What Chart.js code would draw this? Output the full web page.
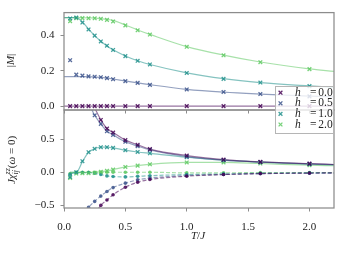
<!DOCTYPE html>
<html><head><meta charset="utf-8">
<script src="https://cdn.jsdelivr.net/npm/chart.js@4"></script>
<style>
html,body{margin:0;padding:0;background:#fff;}
#wrap{position:relative;width:346px;height:257px;overflow:hidden;}
canvas{position:absolute;left:0;top:0;}
</style></head>
<body><div id="wrap"><canvas id="top" width="346" height="257"></canvas><canvas id="bot" width="346" height="257"></canvas></div>
<script>
// ---------- data ----------
const hLabels = ['0.0','0.5','1.0','2.0'];
const xTicks = [0,0.5,1.0,1.5,2.0];
const yTicksTop = [0,0.2,0.4];
const yTicksBot = [-0.5,0,0.5];

// simulation temperatures (markers)
const T = [0.05,0.1,0.15,0.2,0.25,0.3,0.35,0.4,0.5,0.6,0.7,1.0,1.3,1.6,2.0];
// |M| markers
const M_h00 = [0,0,0,0,0,0,0,0,0,0,0,0,0,0,0];
const M_h05 = [0.259,0.178,0.172,0.168,0.166,0.163,0.158,0.152,0.141,0.131,0.120,0.094,0.080,0.068,0.055];
const M_h10 = [0.495,0.500,0.472,0.433,0.398,0.365,0.341,0.317,0.282,0.256,0.235,0.187,0.154,0.133,0.113];
const M_h20 = [0.480,0.497,0.497,0.496,0.496,0.493,0.487,0.478,0.456,0.428,0.404,0.335,0.287,0.248,0.209];
// |M| curves
const Tc = [0,0.1,0.15,0.2,0.25,0.3,0.35,0.4,0.5,0.6,0.7,1.0,1.3,1.6,2.0,2.2];
const Mc_h00 = [0,0,0,0,0,0,0,0,0,0,0,0,0,0,0,0];
const Mc_h05 = [0.167,0.167,0.167,0.166,0.164,0.162,0.158,0.153,0.142,0.131,0.121,0.095,0.079,0.068,0.056,0.052];
const Mc_h10 = [0.500,0.500,0.475,0.435,0.398,0.366,0.340,0.318,0.283,0.256,0.235,0.188,0.155,0.133,0.114,0.106];
const Mc_h20 = [0.500,0.500,0.499,0.498,0.497,0.494,0.490,0.484,0.458,0.430,0.405,0.336,0.288,0.249,0.210,0.196];

// J chi (solid, x markers)
const X_h00 = [null,null,null,null,null,0.79,0.66,0.60,0.485,0.415,0.350,0.252,0.192,0.157,0.130];
const X_h05 = [null,null,null,null,0.86,0.73,0.62,0.565,0.460,0.395,0.338,0.237,0.182,0.152,0.126];
const X_h10 = [-0.07,0.0,0.167,0.303,0.354,0.378,0.378,0.368,0.333,0.306,0.286,0.227,0.182,0.152,0.121];
const X_h20 = [-0.086,-0.02,-0.015,-0.015,-0.01,0.005,0.02,0.04,0.08,0.10,0.12,0.148,0.148,0.132,0.106];
// J chi curves (solid)
const Tx = [0.05,0.1,0.15,0.2,0.25,0.3,0.35,0.4,0.5,0.6,0.7,1.0,1.3,1.6,2.0,2.2];
const Xc_h00 = [null,null,null,null,0.97,0.79,0.66,0.60,0.485,0.415,0.350,0.252,0.192,0.157,0.130,0.117];
const Xc_h05 = [null,null,null,1.05,0.86,0.73,0.62,0.565,0.460,0.395,0.338,0.237,0.182,0.152,0.126,0.114];
const Xc_h10 = [0.0,0.0,0.16,0.30,0.355,0.378,0.378,0.368,0.333,0.306,0.286,0.227,0.182,0.152,0.121,0.110];
const Xc_h20 = [0.0,0.0,-0.005,-0.005,0.0,0.01,0.02,0.04,0.08,0.10,0.12,0.148,0.148,0.132,0.106,0.098];
// dashed (dot markers)
const D_h00 = [null,null,null,null,null,-0.50,-0.42,-0.34,-0.227,-0.150,-0.110,-0.060,-0.035,-0.020,-0.012];
const D_h05 = [null,null,null,-0.53,-0.44,-0.36,-0.29,-0.232,-0.165,-0.115,-0.088,-0.050,-0.035,-0.022,-0.015];
const D_h10 = [-0.03,-0.005,-0.005,-0.005,-0.015,-0.035,-0.055,-0.065,-0.070,-0.062,-0.052,-0.035,-0.025,-0.015,-0.010];
const D_h20 = [-0.02,0.0,0.0,0.0,0.0,0.0,0.0,0.0,0.0,0.0,0.0,-0.010,-0.008,-0.006,-0.004];
const Dc_h00 = [null,null,null,null,-0.64,-0.50,-0.42,-0.34,-0.227,-0.150,-0.110,-0.060,-0.035,-0.020,-0.012,-0.010];
const Dc_h05 = [null,null,-0.66,-0.53,-0.44,-0.36,-0.29,-0.232,-0.165,-0.115,-0.088,-0.050,-0.035,-0.022,-0.015,-0.013];
const Dc_h10 = [-0.03,-0.005,-0.005,-0.005,-0.015,-0.035,-0.055,-0.065,-0.070,-0.062,-0.052,-0.035,-0.025,-0.015,-0.010,-0.009];
const Dc_h20 = [-0.02,0.0,0.0,0.0,0.0,0.0,0.0,0.0,0.0,0.0,0.0,-0.010,-0.008,-0.006,-0.004,-0.004];

// ---------- styling ----------
const C = ['#440154','#3b528b','#21918c','#5ec962'];
const AX = '#8c8c8c';
const SERIF = "'Liberation Serif','DejaVu Serif',serif";
function rgba(h,a){const n=parseInt(h.slice(1),16);return `rgba(${n>>16},${(n>>8)&255},${n&255},${a})`;}
function pts(xs,ys){const o=[];xs.forEach((x,i)=>{if(ys[i]!==null&&ys[i]!==undefined)o.push({x:x,y:ys[i]});});return o;}
function markerDS(xs,ys,col,style){const c=style==='circle';return {data:pts(xs,ys),showLine:false,pointStyle:style,
  pointRadius:c?1.8:2.6,pointBorderWidth:c?0:1.3,pointBorderColor:rgba(col,0.85),pointBackgroundColor:rgba(col,0.85),clip:0,order:1};}
function lineDS(xs,ys,col,dash){return {data:pts(xs,ys),pointRadius:0,borderColor:rgba(col,0.55),borderWidth:1.2,
  borderDash:dash||[],cubicInterpolationMode:'monotone',fill:false,clip:0,order:2};}
function fmt(v){return (v<0?'\u2212':'')+Math.abs(v).toFixed(1);}

function drawRich(ctx,runs,cx,cy,rot){
  ctx.save();ctx.translate(cx,cy);ctx.rotate(rot);ctx.textBaseline='middle';ctx.textAlign='left';ctx.fillStyle='#222';
  const widths=runs.map(r=>{if(r.stack){return Math.max(...r.stack.map(s=>{ctx.font=s.f;return ctx.measureText(s.t).width;}));}ctx.font=r.f;return ctx.measureText(r.t).width;});
  const W=widths.reduce((a,b)=>a+b,0);let x=-W/2;
  runs.forEach((r,i)=>{const parts=r.stack?r.stack:[r];parts.forEach(p=>{ctx.font=p.f;ctx.fillText(p.t,x,p.dy||0);});x+=widths[i];});
  ctx.restore();
}
const it11='italic 11px '+SERIF, rm11='11px '+SERIF, it8='italic 8px '+SERIF;

const spines={id:'spines',afterDatasetsDraw(chart){const a=chart.chartArea,ctx=chart.ctx;ctx.save();ctx.strokeStyle=AX;ctx.lineWidth=1.25;
  ctx.strokeRect(a.left,a.top,a.right-a.left,a.bottom-a.top);ctx.restore();}};

function scales(cfg){return {
  x:{type:'linear',min:0,max:2.2,afterBuildTicks:s=>{s.ticks=xTicks.map(v=>({value:v}));},afterFit:s=>{s.height=cfg.xh;},
     border:{display:false},grid:{drawOnChartArea:false,drawTicks:true,tickLength:3.5,tickColor:AX,tickWidth:1},
     ticks:{display:cfg.xlabels,autoSkip:false,maxRotation:0,font:{family:SERIF,size:11},color:'#222',padding:9,callback:fmt}},
  y:{type:'linear',min:cfg.ymin,max:cfg.ymax,afterBuildTicks:s=>{s.ticks=cfg.yt.map(v=>({value:v}));},afterFit:s=>{s.width=64;},
     border:{display:false},grid:{drawOnChartArea:false,drawTicks:true,tickLength:3.5,tickColor:AX,tickWidth:1},
     ticks:{autoSkip:false,font:{family:SERIF,size:11},color:'#222',padding:6,callback:fmt}}
};}
const base={responsive:false,animation:false,events:[],plugins:{legend:{display:false},tooltip:{enabled:false}}};

const topTitle={id:'topTitle',afterDraw(chart){drawRich(chart.ctx,[{t:'|',f:rm11},{t:'M',f:it11},{t:'|',f:rm11}],11,60.5,-Math.PI/2);}};

new Chart(document.getElementById('top'),{type:'line',
  data:{datasets:[
    lineDS(Tc,Mc_h00,C[0]),lineDS(Tc,Mc_h05,C[1]),lineDS(Tc,Mc_h10,C[2]),lineDS(Tc,Mc_h20,C[3]),
    markerDS(T,M_h00,C[0],'crossRot'),markerDS(T,M_h05,C[1],'crossRot'),markerDS(T,M_h10,C[2],'crossRot'),markerDS(T,M_h20,C[3],'crossRot')]},
  options:Object.assign({},base,{layout:{padding:{left:0,right:12,top:11,bottom:147}},
    scales:scales({xh:0,xlabels:false,ymin:-0.022,ymax:0.528,yt:yTicksTop})}),
  plugins:[spines,topTitle]});

const botDeco={id:'botDeco',afterDraw(chart){const ctx=chart.ctx;
  drawRich(ctx,[{t:'J',f:it11},{t:'\u03C7',f:it11},{stack:[{t:'zz',f:it8,dy:-4},{t:'ij',f:it8,dy:3.5}]},{t:'(',f:rm11},{t:'\u03C9',f:it11},{t:' = ',f:rm11},{t:'0',f:rm11},{t:')',f:rm11}],12,160,-Math.PI/2);
  drawRich(ctx,[{t:'T',f:it11},{t:'/',f:rm11},{t:'J',f:it11}],198,236,0);
  // legend
  ctx.save();ctx.fillStyle='rgba(255,255,255,0.8)';ctx.fillRect(275,86,59,48);
  ctx.strokeStyle='#b5b5b5';ctx.lineWidth=1;ctx.strokeRect(275.5,86.5,58,47);
  hLabels.forEach((lab,i)=>{const y=92.7+i*10.6;ctx.strokeStyle=rgba(C[i],0.85);ctx.lineWidth=1.3;
    ctx.beginPath();ctx.moveTo(278.6,y-1.9);ctx.lineTo(282.4,y+1.9);ctx.moveTo(278.6,y+1.9);ctx.lineTo(282.4,y-1.9);ctx.stroke();
    ctx.fillStyle='#222';ctx.textBaseline='middle';ctx.textAlign='left';
    ctx.font='italic 11.5px '+SERIF;ctx.fillText('h',295,y);
    ctx.font='11.5px '+SERIF;ctx.fillText('=',310,y);ctx.fillText(lab,318.3,y);});
  ctx.restore();}};

new Chart(document.getElementById('bot'),{type:'line',
  data:{datasets:[
    lineDS(Tx,Xc_h00,C[0]),lineDS(Tx,Xc_h05,C[1]),lineDS(Tx,Xc_h10,C[2]),lineDS(Tx,Xc_h20,C[3]),
    lineDS(Tx,Dc_h00,C[0],[4,2]),lineDS(Tx,Dc_h05,C[1],[4,2]),lineDS(Tx,Dc_h10,C[2],[4,2]),lineDS(Tx,Dc_h20,C[3],[4,2]),
    markerDS(T,X_h00,C[0],'crossRot'),markerDS(T,X_h05,C[1],'crossRot'),markerDS(T,X_h10,C[2],'crossRot'),markerDS(T,X_h20,C[3],'crossRot'),
    markerDS(T,D_h00,C[0],'circle'),markerDS(T,D_h05,C[1],'circle'),markerDS(T,D_h10,C[2],'circle'),markerDS(T,D_h20,C[3],'circle')]},
  options:Object.assign({},base,{layout:{padding:{left:0,right:12,top:110,bottom:0}},
    scales:scales({xh:49,xlabels:true,ymin:-0.54,ymax:0.94,yt:yTicksBot})}),
  plugins:[spines,botDeco]});
</script>
</body></html>
